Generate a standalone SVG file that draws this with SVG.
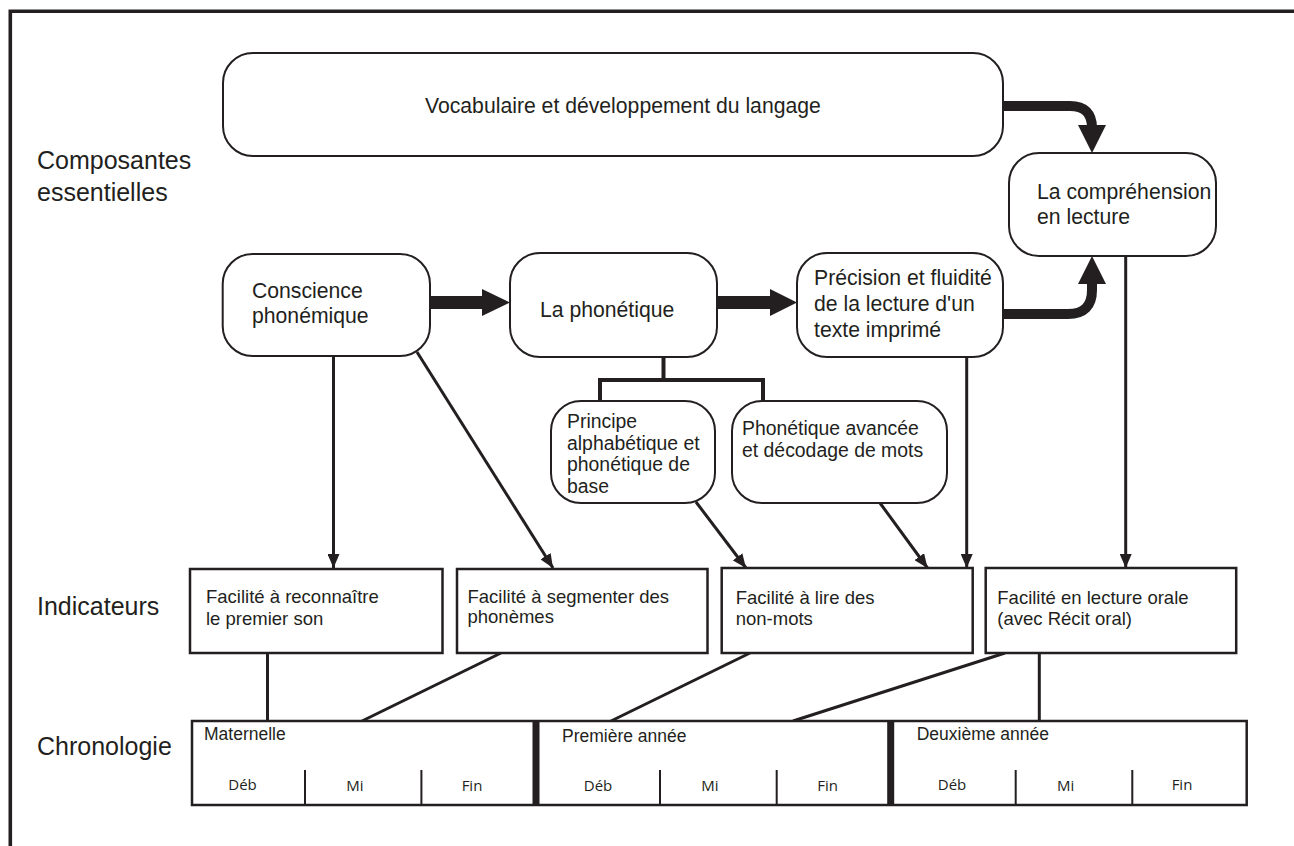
<svg xmlns="http://www.w3.org/2000/svg" width="1294" height="846" viewBox="0 0 1294 846">
<defs>
<style>
text{font-family:"Liberation Sans",Arial,Helvetica,sans-serif;fill:#231f20}
.lbl{font-size:25px}
.box{fill:#fff;stroke:#231f20;stroke-width:2}
.ind{fill:#fff;stroke:#231f20;stroke-width:2.5}
.t21{font-size:21.2px}
.t19{font-size:19.4px}
.t18{font-size:18.5px}
.t17{font-size:17.5px}
.tsm{font-family:"Open Sans","Liberation Sans",sans-serif;font-size:15px;text-anchor:middle}
.ln{fill:none;stroke:#231f20;stroke-width:3}
.ln4{fill:none;stroke:#231f20;stroke-width:4}
.thick{fill:none;stroke:#231f20;stroke-width:13}
.curve{fill:none;stroke:#231f20;stroke-width:10}
.head{fill:#231f20}
</style>
<marker id="ah" viewBox="0 0 14 12" refX="14" refY="6" markerWidth="14" markerHeight="12" markerUnits="userSpaceOnUse" orient="auto">
<path d="M0,0 L14,6 L0,12 Z" fill="#231f20"/>
</marker>
</defs>
<rect width="1294" height="846" fill="#fff"/>
<path d="M10.3,846 V11.3 H1294" fill="none" stroke="#231f20" stroke-width="3.6"/>

<g id="labels">
<text class="lbl" x="37" y="169">Composantes</text>
<text class="lbl" x="37" y="201">essentielles</text>
<text class="lbl" x="37" y="615">Indicateurs</text>
<text class="lbl" x="37" y="755">Chronologie</text>
</g>

<g id="connectors">
<line class="thick" x1="430" y1="302.5" x2="483" y2="302.5"/>
<polygon class="head" points="482,289 510,302.5 482,316"/>
<line class="thick" x1="717" y1="302.5" x2="771" y2="302.5"/>
<polygon class="head" points="770,289 797,302.5 770,316"/>
<path class="curve" d="M1003,106 H1070 Q1092,106 1092,128"/>
<polygon class="head" points="1078,125 1106,125 1092,153"/>
<path class="curve" d="M1003,314 H1068 Q1092,314 1092,290 V282"/>
<polygon class="head" points="1078,284 1106,284 1092,256"/>
<path class="ln4" d="M663.5,357 V380 M600,380 H763 M600,378 V401 M763,378 V401"/>
<line class="ln" x1="333.5" y1="356" x2="333.5" y2="568" marker-end="url(#ah)"/>
<line class="ln" x1="417" y1="352" x2="553" y2="568" marker-end="url(#ah)"/>
<line class="ln" x1="696" y1="502" x2="746" y2="568" marker-end="url(#ah)"/>
<line class="ln" x1="880" y1="503" x2="927.5" y2="568" marker-end="url(#ah)"/>
<line class="ln" x1="966.7" y1="357" x2="966.7" y2="568" marker-end="url(#ah)"/>
<line class="ln" x1="1125.7" y1="256" x2="1125.7" y2="568" marker-end="url(#ah)"/>
<line class="ln" x1="267.5" y1="653" x2="267.5" y2="721"/>
<line class="ln" x1="501" y1="653" x2="362" y2="721"/>
<line class="ln" x1="750" y1="653" x2="611" y2="721"/>
<line class="ln" x1="1005" y1="653" x2="793" y2="721"/>
<line class="ln" x1="1039.3" y1="653" x2="1039.3" y2="721"/>
</g>

<g id="vocabulaire">
<rect class="box" x="223" y="53" width="780" height="103" rx="30"/>
<text class="t21" x="425" y="113">Vocabulaire et développement du langage</text>
</g>

<g id="comprehension">
<rect class="box" x="1009" y="153" width="207" height="103" rx="30"/>
<text class="t21" x="1037" y="199">La compréhension</text>
<text class="t21" x="1037" y="224">en lecture</text>
</g>

<g id="conscience">
<rect class="box" x="222.7" y="254" width="207.3" height="102" rx="30"/>
<text class="t21" x="252" y="298">Conscience</text>
<text class="t21" x="252" y="323">phonémique</text>
</g>

<g id="phonetique">
<rect class="box" x="510" y="253" width="207" height="104" rx="30"/>
<text class="t21" x="540" y="317">La phonétique</text>
</g>

<g id="precision">
<rect class="box" x="797" y="253" width="206" height="104" rx="30"/>
<text class="t21" x="814" y="285">Précision et fluidité</text>
<text class="t21" x="814" y="311">de la lecture d'un</text>
<text class="t21" x="814" y="337">texte imprimé</text>
</g>

<g id="principe">
<rect class="box" x="551" y="401" width="164" height="102" rx="30"/>
<text class="t19" x="567" y="428">Principe</text>
<text class="t19" x="567" y="450">alphabétique et</text>
<text class="t19" x="567" y="471">phonétique de</text>
<text class="t19" x="567" y="493">base</text>
</g>

<g id="avancee">
<rect class="box" x="732" y="401" width="215" height="102" rx="30"/>
<text class="t19" x="742" y="435">Phonétique avancée</text>
<text class="t19" x="742" y="457">et décodage de mots</text>
</g>

<g id="ind1">
<rect class="ind" x="190" y="569" width="252.5" height="84"/>
<text class="t18" x="206" y="603">Facilité à reconnaître</text>
<text class="t18" x="206" y="625">le premier son</text>
</g>
<g id="ind2">
<rect class="ind" x="457" y="569" width="250.5" height="84"/>
<text class="t18" x="467.5" y="603">Facilité à segmenter des</text>
<text class="t18" x="467.5" y="623">phonèmes</text>
</g>
<g id="ind3">
<rect class="ind" x="721.7" y="568" width="251" height="85"/>
<text class="t18" x="735.7" y="604">Facilité à lire des</text>
<text class="t18" x="735.7" y="625">non-mots</text>
</g>
<g id="ind4">
<rect class="ind" x="985.7" y="568" width="250.5" height="85"/>
<text class="t18" x="997.3" y="604">Facilité en lecture orale</text>
<text class="t18" x="997.3" y="625">(avec Récit oral)</text>
</g>

<g id="chronologie">
<rect class="ind" x="192" y="721" width="1054.7" height="84"/>
<rect x="532.5" y="721" width="7" height="84" fill="#231f20"/>
<rect x="887.2" y="721" width="7" height="84" fill="#231f20"/>
<path d="M305,770 V805 M421.4,770 V805 M660,770 V805 M776.7,770 V805 M1015.7,770 V805 M1132.3,770 V805" fill="none" stroke="#231f20" stroke-width="2"/>
<text class="t17" x="204" y="740">Maternelle</text>
<text class="t17" x="562" y="742">Première année</text>
<text class="t17" x="916.7" y="740">Deuxième année</text>
<text class="tsm" x="242.5" y="790">Déb</text>
<text class="tsm" x="355" y="791">Mi</text>
<text class="tsm" x="472" y="791">Fin</text>
<text class="tsm" x="598" y="791">Déb</text>
<text class="tsm" x="710" y="791">Mi</text>
<text class="tsm" x="827.7" y="791">Fin</text>
<text class="tsm" x="952" y="790">Déb</text>
<text class="tsm" x="1065.7" y="791">Mi</text>
<text class="tsm" x="1182" y="790">Fin</text>
</g>
</svg>
